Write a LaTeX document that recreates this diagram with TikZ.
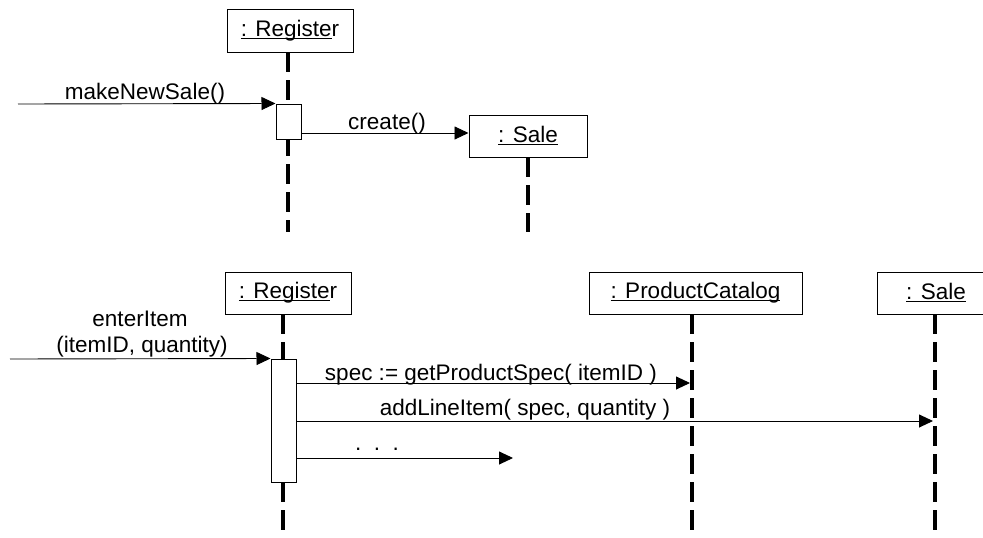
\documentclass[tikz,border=0pt]{standalone}
\usepackage{fontspec}
\setmainfont{Liberation Sans}
\usetikzlibrary{arrows.meta}
\newcommand{\myul}[1]{\setbox0\hbox{#1}\rlap{\rule[-2.5pt]{\wd0}{1pt}}\box0}
\begin{document}
\begin{tikzpicture}[x=1pt,y=-1pt,
  font=\fontsize{22.5}{27}\selectfont,
  objbox/.style={draw, line width=1pt, fill=white, inner sep=0pt, minimum height=43pt},
  actbox/.style={draw, line width=1pt, fill=white, inner sep=0pt, minimum width=25pt},
  lifeline/.style={line width=4pt, dash pattern=on 20pt off 8pt},
  msg/.style={line width=0.9pt, -{Triangle[length=14pt,width=13pt]}},
  lbl/.style={anchor=base, inner sep=0pt}]
\clip (0,0) rectangle (983,538);
\useasboundingbox (0,0) rectangle (983,538);

% ---------- top diagram ----------
\node[objbox, minimum width=126pt] (reg1) at (290,30.5) {\myul{: Registe}r};
\node[objbox, minimum width=118pt, minimum height=42pt] (sale1) at (528,136) {\myul{: Sale}};
\coordinate (r1a) at (288,52);
\coordinate (r1b) at (288,232);
\coordinate (s1a) at (528,157);
\coordinate (s1b) at (528,232);
\draw[lifeline] (r1a) -- (r1b);
\draw[lifeline] (s1a) -- (s1b);
\node[actbox, minimum height=35pt] (act1) at (288.5,121.5) {};

\coordinate (src1) at (18,104);
\draw[msg] (src1) -- (act1.north west);
\node[lbl] (lmk) at (145,99) {makeNewSale()};

\coordinate (c1) at ([yshift=3pt]sale1.west);
\draw[msg] (act1.east |- c1) -- (c1);
\node[lbl] (lcr) at (387,129) {create()};

% ---------- bottom diagram ----------
\node[objbox, minimum width=126pt, minimum height=42pt] (reg2) at (288,293) {\myul{: Registe}r};
\node[objbox, minimum width=213pt, minimum height=42pt] (pc) at (695.5,293) {\myul{: ProductCatalog}};
\node[objbox, minimum width=118pt, minimum height=42pt] (sale2) at (936,293) {\myul{: Sale}};
\coordinate (r2a) at (283,314);
\coordinate (r2b) at (283,540);
\coordinate (p2a) at (692,314);
\coordinate (p2b) at (692,540);
\coordinate (q2a) at (935,314);
\coordinate (q2b) at (935,540);
\draw[lifeline] (r2a) -- (r2b);
\draw[lifeline] (p2a) -- (p2b);
\draw[lifeline] (q2a) -- (q2b);
\node[actbox, minimum height=123pt] (act2) at (283.5,420.5) {};

\coordinate (src2) at (10,359);
\draw[msg] (src2) -- (act2.north west);
\node[lbl] (len1) at (140,326) {enterItem};
\node[lbl] (len2) at (142,352) {(itemID, quantity)};

\coordinate (e1) at (690,383);
\draw[msg] (act2.east |- e1) -- (e1);
\node[lbl] (lsp) at (491,380) {spec := getProductSpec( itemID )};

\coordinate (e2) at (933,421);
\draw[msg] (act2.east |- e2) -- (e2);
\node[lbl] (lad) at (525,415) {addLineItem( spec, quantity )};

\coordinate (e3) at (513,458);
\draw[msg] (act2.east |- e3) -- (e3);
\node[lbl] (ldt) at (377,450) {.\ \ .\ \ .};
\end{tikzpicture}
\end{document}
